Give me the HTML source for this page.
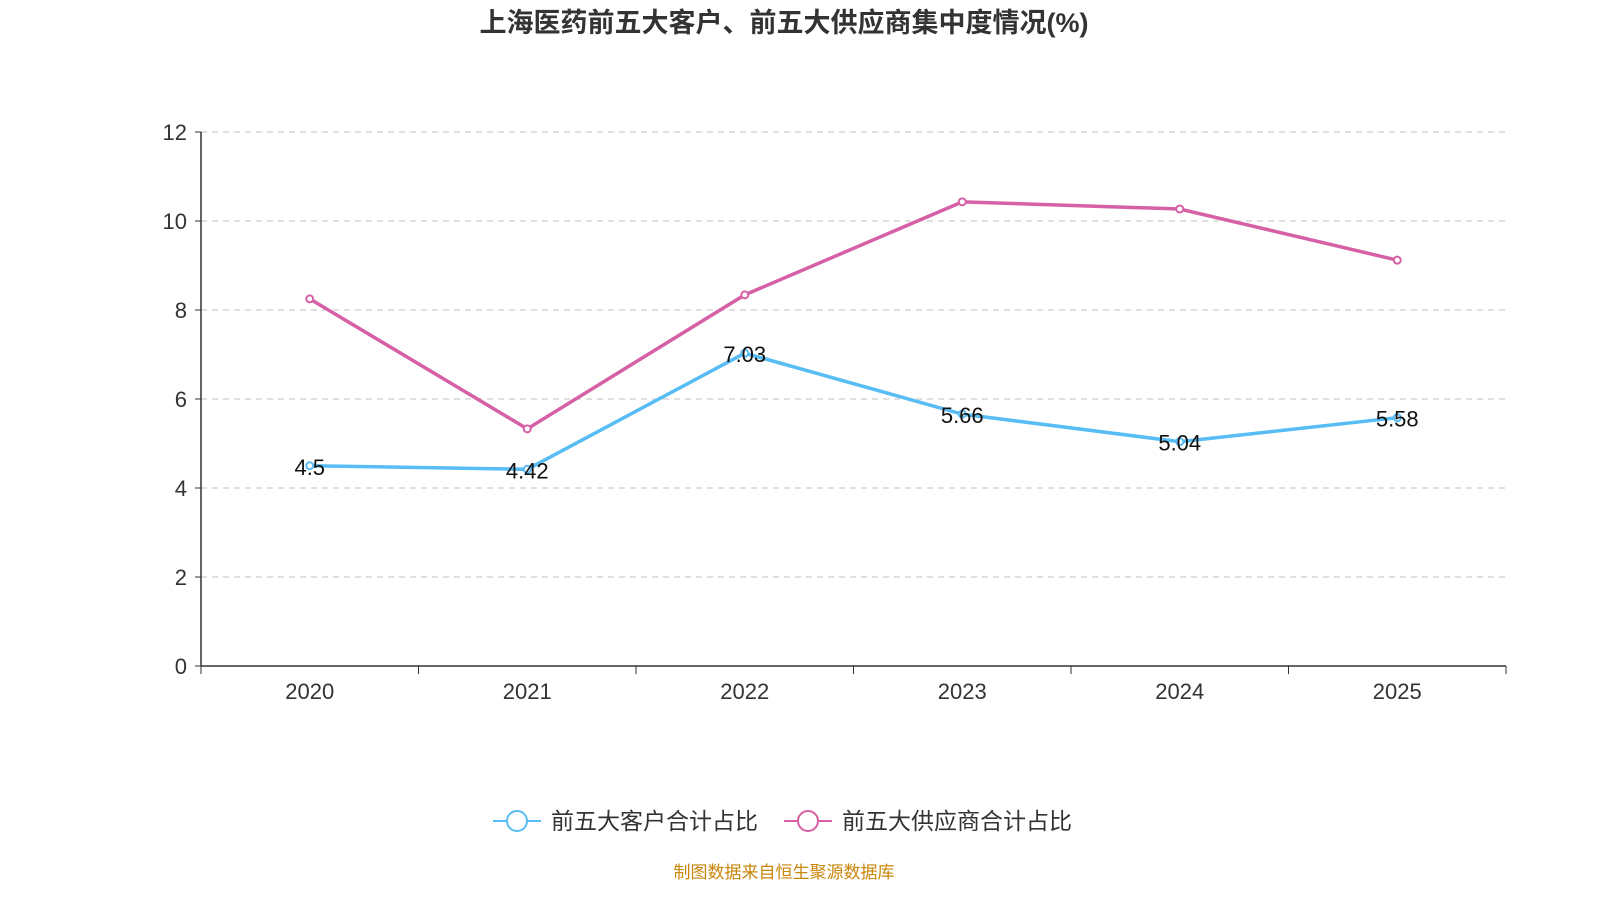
<!DOCTYPE html>
<html><head><meta charset="utf-8"><style>
body{margin:0;background:#fff;width:1600px;height:900px;overflow:hidden;font-family:"Liberation Sans","Noto Sans CJK SC",sans-serif}
</style></head><body>
<svg id="chart" width="1600" height="900" xmlns="http://www.w3.org/2000/svg" font-family="Liberation Sans, Noto Sans CJK SC, sans-serif">
<text x="784" y="32" text-anchor="middle" font-size="27" font-weight="bold" fill="#333">上海医药前五大客户、前五大供应商集中度情况(%)</text>
<g id="grid"></g><g id="axes"></g><g id="series"></g>
<g>
<g>
<line x1="493" y1="821" x2="541" y2="821" stroke="#57bdf4" stroke-width="2"/>
<circle cx="517" cy="821" r="10" fill="#fff" stroke="#57bdf4" stroke-width="2"/>
<text x="551" y="829" font-size="23" fill="#333">前五大客户合计占比</text></g>
<g>
<line x1="784" y1="821" x2="832" y2="821" stroke="#d660a6" stroke-width="2"/>
<circle cx="808" cy="821" r="10" fill="#fff" stroke="#d660a6" stroke-width="2"/>
<text x="842" y="829" font-size="23" fill="#333">前五大供应商合计占比</text></g>
</g>
<text x="784" y="878" text-anchor="middle" font-size="17" fill="#c8860a">制图数据来自恒生聚源数据库</text>
</svg>
<script>
const categories=["2020","2021","2022","2023","2024","2025"];
const customers=[4.5,4.42,7.03,5.66,5.04,5.58];
const suppliers=[8.25,5.33,8.34,10.43,10.27,9.12];
const yTicks=[0,2,4,6,8,10,12];
const NS="http://www.w3.org/2000/svg";
const pLeft=201,pRight=1506,pTop=132,pBottom=666,yMax=12;
const band=(pRight-pLeft)/categories.length;
const xs=i=>pLeft+band*(i+0.5);
const ys=v=>pBottom-(v/yMax)*(pBottom-pTop);
function mk(t,a,p){const e=document.createElementNS(NS,t);for(const k in a)e.setAttribute(k,a[k]);p.appendChild(e);return e;}
const gridG=document.getElementById('grid'),axesG=document.getElementById('axes'),serG=document.getElementById('series');
yTicks.forEach(v=>{
 if(v>0){const g=mk('line',{x1:pLeft,x2:pRight,y1:ys(v),y2:ys(v),stroke:'#ccc','stroke-dasharray':'6,5','stroke-width':1.3},gridG);
 
 }
 mk('line',{x1:pLeft-6,x2:pLeft,y1:ys(v),y2:ys(v),stroke:'#333'},axesG);
 const t=mk('text',{x:pLeft-14,y:ys(v)+8,'text-anchor':'end','font-size':22,fill:'#333'},axesG);t.textContent=v;
 
 
});
mk('line',{x1:pLeft,x2:pLeft,y1:pTop,y2:pBottom,stroke:'#333','stroke-width':1.5},axesG);
mk('line',{x1:pLeft,x2:pRight,y1:pBottom,y2:pBottom,stroke:'#333','stroke-width':1.5},axesG);
for(let i=0;i<=categories.length;i++)mk('line',{x1:pLeft+band*i,x2:pLeft+band*i,y1:pBottom,y2:pBottom+8,stroke:'#333'},axesG);
categories.forEach((c,i)=>{const t=mk('text',{x:xs(i),y:pBottom+33,'text-anchor':'middle','font-size':22,fill:'#333'},axesG);t.textContent=c;
 
 });
function draw(vals,color,name,labels){
 const p=mk('polyline',{points:vals.map((v,i)=>xs(i)+','+ys(v)).join(' '),fill:'none',stroke:color,'stroke-width':3.5},serG);
 
 
 vals.forEach((v,i)=>{const c=mk('circle',{cx:xs(i),cy:ys(v),r:3.5,fill:'#fff',stroke:color,'stroke-width':2},serG);
  
  
  if(labels){const t=mk('text',{x:xs(i),y:ys(v)+9,'text-anchor':'middle','font-size':22,fill:'#111'},serG);t.textContent=v;
  
  }});
}
draw(suppliers,'#d660a6','suppliers',false);
draw(customers,'#57bdf4','customers',true);
</script>
</body></html>
